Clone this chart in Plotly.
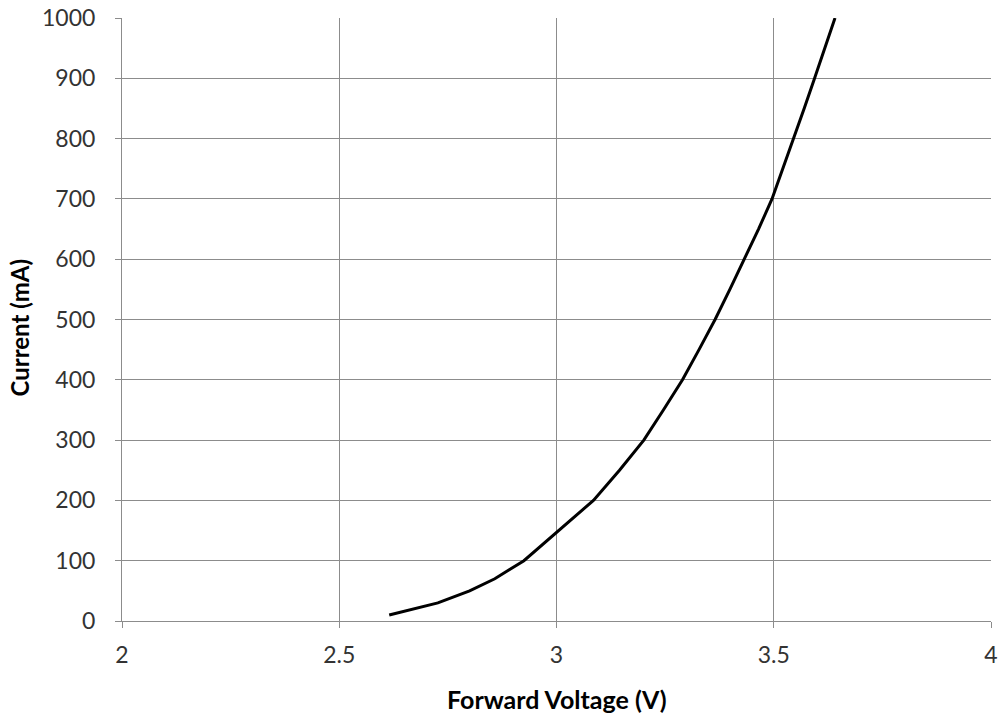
import plotly.graph_objects as go

voltage = [2.615, 2.727, 2.80, 2.858, 2.925, 3.005, 3.085, 3.145, 3.201, 3.246, 3.290, 3.328, 3.365, 3.399, 3.432, 3.465, 3.496, 3.521, 3.546, 3.570, 3.594, 3.618, 3.641]
current = [10, 30, 50, 70, 100, 150, 200, 250, 300, 350, 400, 450, 500, 550, 600, 650, 700, 750, 800, 850, 900, 950, 1000]

x_ticks = [2, 2.5, 3, 3.5, 4]
x_tick_labels = ["2", "2.5", "3", "3.5", "4"]
y_ticks = list(range(0, 1001, 100))

font_family = "Lato, Open Sans, sans-serif"
grid_color = "#8c8c8c"

fig = go.Figure()
fig.add_trace(go.Scatter(
    x=voltage, y=current, mode="lines",
    line=dict(color="black", width=3),
    showlegend=False, hoverinfo="x+y",
))

fig.update_layout(
    width=1001, height=716,
    margin=dict(l=122, r=10, t=18, b=95),
    paper_bgcolor="white", plot_bgcolor="white",
    font=dict(family=font_family, size=23, color="#333333"),
    xaxis=dict(
        range=[2, 4], tickvals=x_ticks, ticktext=x_tick_labels,
        showgrid=True, gridcolor=grid_color, gridwidth=1,
        showline=True, linecolor=grid_color, linewidth=1,
        ticks="outside", ticklen=6, tickcolor=grid_color,
        zeroline=False, automargin=False,
        ticklabelstandoff=7,
        tickfont=dict(size=23),
    ),
    yaxis=dict(
        range=[0, 1000], tickvals=y_ticks,
        showgrid=True, gridcolor=grid_color, gridwidth=1,
        showline=True, linecolor=grid_color, linewidth=1,
        ticks="outside", ticklen=6, tickcolor=grid_color,
        zeroline=False, automargin=False,
        ticklabelstandoff=15,
        tickfont=dict(size=23),
    ),
    annotations=[
        dict(text="<b>Forward Voltage (V)</b>", xref="paper", yref="paper",
             x=0.5, y=0, xanchor="center", yanchor="middle", yshift=-78,
             showarrow=False, font=dict(size=25, color="black")),
        dict(text="<b>Current (mA)</b>", xref="paper", yref="paper",
             x=0, y=0.5, xanchor="center", yanchor="middle", xshift=-103, yshift=-8,
             textangle=-90, showarrow=False, font=dict(size=24, color="black")),
    ],
)

fig.write_html(
    "out.html",
    config={"displayModeBar": False},
    post_script="document.body.style.margin='0';document.body.style.overflow='hidden';",
)
